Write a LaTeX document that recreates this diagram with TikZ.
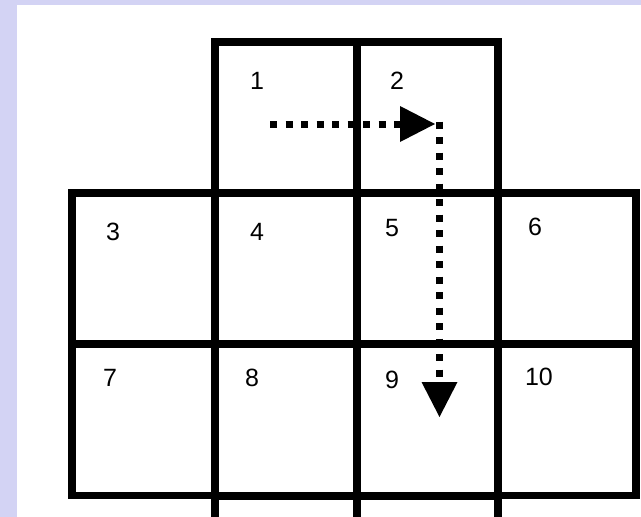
\documentclass[tikz,border=0pt]{standalone}
\usepackage{fontspec}
\setmainfont{Liberation Sans}
\usetikzlibrary{arrows.meta}
\definecolor{lavender}{RGB}{211,211,244}
\tikzset{
  cell/.style={draw=black, line width=7.5pt, rectangle, inner sep=0pt, minimum height=151pt},
  num/.style={font=\fontsize{25pt}{29pt}\selectfont, inner sep=0pt, text=black},
  dotarrow/.style={line width=7pt, dash pattern=on 7pt off 8.5pt,
    -{Triangle[length=35pt,width=36pt,line width=0pt]}}
}
\begin{document}
\begin{tikzpicture}[x=1pt,y=-1pt]
\useasboundingbox (0,0) rectangle (641,517);
\fill[lavender] (0,0) rectangle (641,517);
\fill[white] (17,5) rectangle (641,517);
\begin{scope}
\clip (17,5) rectangle (641,517);
% row 1
\node[cell, minimum width=142pt] (c1) at (286,117.5) {};
\node[cell, minimum width=141pt] (c2) at (427.5,117.5) {};
% row 2
\node[cell, minimum width=143pt] (c3) at (143.5,268.5) {};
\node[cell, minimum width=142pt] (c4) at (286,268.5) {};
\node[cell, minimum width=141pt] (c5) at (427.5,268.5) {};
\node[cell, minimum width=138pt] (c6) at (567,268.5) {};
% row 3
\node[cell, minimum width=143pt] (c7) at (143.5,420) {};
\node[cell, minimum width=142pt] (c8) at (286,420) {};
\node[cell, minimum width=141pt] (c9) at (427.5,420) {};
\node[cell, minimum width=138pt] (c10) at (567,420) {};
% row 4 (cut off)
\node[cell, minimum width=142pt] (c11) at (286,571.5) {};
\node[cell, minimum width=141pt] (c12) at (427.5,571.5) {};
\end{scope}
% labels
\node[num] (l1) at (257,81) {1};
\node[num] (l2) at (397,81) {2};
\node[num] (l3) at (113,232) {3};
\node[num] (l4) at (257,232) {4};
\node[num] (l5) at (392,228) {5};
\node[num] (l6) at (535,226.5) {6};
\node[num] (l7) at (110,378) {7};
\node[num] (l8) at (252,378) {8};
\node[num] (l9) at (392,380) {9};
\node[num] (l10) at (539,377) {10};
% path arrows
\coordinate (hs) at (270,124);
\coordinate (ht) at (435,124);
\coordinate (vs) at (439.5,121.5);
\coordinate (vt) at (439.5,417);
\draw[dotarrow] (hs) -- (ht);
\draw[dotarrow] (vs) -- (vt);
\end{tikzpicture}
\end{document}
